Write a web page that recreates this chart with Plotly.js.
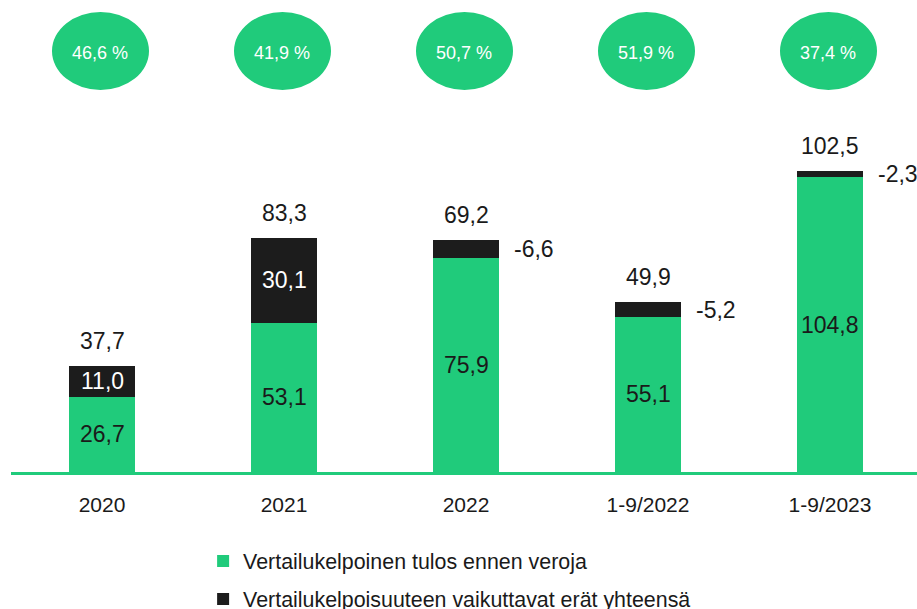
<!DOCTYPE html>
<html>
<head>
<meta charset="utf-8">
<script src="https://cdn.plot.ly/plotly-3.0.1.min.js"></script>
<style>html,body{margin:0;padding:0;background:#fff;}#chart{width:917px;height:609px;}</style>
</head>
<body>
<div id="chart"></div>
<script>
const categories = ["2020", "2021", "2022", "1-9/2022", "1-9/2023"];
const comparableProfit = [26.7, 53.1, 75.9, 55.1, 104.8];
const itemsAffecting = [11.0, 30.1, -6.6, -5.2, -2.3];
const totals = [37.7, 83.3, 69.2, 49.9, 102.5];
const ratioLabels = ["46,6 %", "41,9 %", "50,7 %", "51,9 %", "37,4 %"];
const seriesNames = ["Vertailukelpoinen tulos ennen veroja", "Vertailukelpoisuuteen vaikuttavat erät yhteensä"];

const GREEN = "#20CB7B";
const BLACK = "#1C1C1C";
const FONT = "Liberation Sans, Arial, sans-serif";
const fmt = v => v.toFixed(1).replace(".", ",");

const xIdx = categories.map((c, i) => i);

const traces = [
  {
    type: "bar", name: seriesNames[0], x: xIdx, y: comparableProfit,
    marker: {color: GREEN}, width: 0.365, hoverinfo: "skip", legend: "legend"
  },
  {
    type: "bar", name: seriesNames[1], x: xIdx, y: itemsAffecting.map(Math.abs),
    marker: {color: BLACK}, width: 0.365, hoverinfo: "skip", legend: "legend2"
  }
];

const annotations = [];
const shapes = [];
xIdx.forEach(i => {
  const g = comparableProfit[i], b = itemsAffecting[i];
  const top = g + Math.abs(b);
  annotations.push({x: i, y: g / 2, xref: "x", yref: "y", text: fmt(g), showarrow: false,
    font: {family: FONT, size: 23, color: "#1a1a1a"}, yanchor: "middle"});
  if (b >= 0) {
    annotations.push({x: i, y: g + b / 2, xref: "x", yref: "y", text: fmt(b), showarrow: false,
      font: {family: FONT, size: 23, color: "#ffffff"}, yanchor: "middle"});
  } else {
    annotations.push({x: i, y: g + Math.abs(b) / 2, xref: "x", yref: "y", text: fmt(b), showarrow: false,
      font: {family: FONT, size: 23, color: "#1a1a1a"}, xanchor: "left", xshift: 46, yanchor: "middle"});
  }
  annotations.push({x: i, y: top, xref: "x", yref: "y", text: fmt(totals[i]), showarrow: false,
    font: {family: FONT, size: 23, color: "#1a1a1a"}, yanchor: "middle", yshift: 25});
  shapes.push({type: "circle", xref: "x", yref: "paper", xsizemode: "pixel", ysizemode: "pixel",
    xanchor: i, yanchor: 1, x0: -50, x1: 47, y0: -12, y1: -90,
    fillcolor: GREEN, line: {width: 0}});
  annotations.push({x: i, y: 1, xref: "x", yref: "paper", text: ratioLabels[i], showarrow: false,
    font: {family: FONT, size: 18, color: "#ffffff"}, yanchor: "middle", yshift: -53, xshift: -2});
});

const layout = {
  width: 917, height: 609,
  margin: {l: 11, r: 0, t: 0, b: 137, autoexpand: false},
  paper_bgcolor: "#ffffff", plot_bgcolor: "#ffffff",
  barmode: "stack",
  font: {family: FONT, color: "#1a1a1a"},
  xaxis: {
    type: "linear", range: [-0.5, 4.478], tickmode: "array", tickvals: xIdx, ticktext: categories,
    showgrid: false, zeroline: false, showline: true, linecolor: GREEN, linewidth: 2.5,
    ticks: "", ticklabelstandoff: 12, tickangle: 0, automargin: false,
    tickfont: {family: FONT, size: 21, color: "#1a1a1a"},
    fixedrange: true
  },
  yaxis: {range: [0, 167.7], visible: false, showgrid: false, zeroline: false, fixedrange: true, automargin: false},
  showlegend: true,
  legend: {
    xref: "container", yref: "container", x: 0.2215, y: 1 - 561 / 609, xanchor: "left", yanchor: "middle",
    font: {family: FONT, size: 21.4, color: "#1a1a1a"}, bgcolor: "rgba(0,0,0,0)", borderwidth: 0
  },
  legend2: {
    xref: "container", yref: "container", x: 0.2215, y: 1 - 599 / 609, xanchor: "left", yanchor: "middle",
    font: {family: FONT, size: 21.4, color: "#1a1a1a"}, bgcolor: "rgba(0,0,0,0)", borderwidth: 0
  },
  shapes: shapes,
  annotations: annotations
};

Plotly.newPlot("chart", traces, layout, {displayModeBar: false, staticPlot: true});
</script>
</body>
</html>
